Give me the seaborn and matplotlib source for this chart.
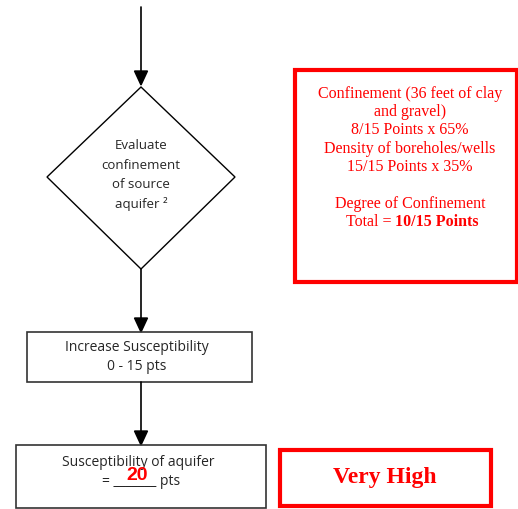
import matplotlib.pyplot as plt
import seaborn as sns
from matplotlib.patches import Rectangle, Polygon

sns.set_style("white")

# Flowchart texts
decision_lines = ["Evaluate", "confinement", "of source", "aquifer \u00b2"]
step_lines = ["Increase Susceptibility", "0 - 15 pts"]
result_lines = ["Susceptibility of aquifer", "= _______ pts"]
score_value = "20"
rating_label = "Very High"
note_lines = ["Confinement (36 feet of clay", "and gravel)", "8/15 Points x 65%",
              "Density of boreholes/wells", "15/15 Points x 35%", "",
              "Degree of Confinement"]
note_total = ("Total =", "10/15 Points")

red = "#ff0000"
hand = ["Open Sans", "DejaVu Sans"]
serif = ["Liberation Serif", "DejaVu Serif"]

fig = plt.figure(figsize=(5.18, 5.10), dpi=100)
ax = fig.add_axes([0, 0, 1, 1])
ax.set_xlim(0, 518)
ax.set_ylim(510, 0)
ax.axis("off")


def arrow_down(x, y0, y1):
    ax.plot([x, x], [y0, y1 - 12], color="black", lw=1.2)
    ax.add_patch(Polygon([[x - 6.5, y1 - 14], [x + 6.5, y1 - 14], [x, y1]],
                         closed=True, color="black"))


# top arrow into the diamond
arrow_down(141, 8, 86)

# decision diamond
ax.add_patch(Polygon([[141, 88], [235, 178], [141, 270], [47, 178]],
                     closed=True, fill=False, ec="black", lw=1.0))
for i, t in enumerate(decision_lines):
    ax.text(141, 146 + i * 19.5, t, ha="center", va="center", fontsize=9.5, family=hand)

arrow_down(141, 270, 333)

# step box
ax.add_patch(Rectangle((27, 333), 225, 50, fill=False, ec="#333333", lw=1.2))
for i, t in enumerate(step_lines):
    ax.text(137, 348 + i * 19, t, ha="center", va="center", fontsize=10, family=hand)

arrow_down(141, 383, 446)

# result box
ax.add_patch(Rectangle((16, 446), 250, 63, fill=False, ec="#333333", lw=1.2))
ax.text(138, 463, result_lines[0], ha="center", va="center", fontsize=10, family=hand)
ax.text(141, 482, result_lines[1], ha="center", va="center", fontsize=10, family=hand)
ax.text(137, 476, score_value, ha="center", va="center", fontsize=14, color=red,
        fontweight="bold", family=["Liberation Sans", "DejaVu Sans"])

# rating box
ax.add_patch(Rectangle((280, 451), 211, 56, fill=False, ec=red, lw=3))
ax.text(385, 478, rating_label, ha="center", va="center", fontsize=17, color=red,
        fontweight="bold", family=serif)

# confinement note box
ax.add_patch(Rectangle((295, 71), 222, 212, fill=False, ec=red, lw=3))
for i, t in enumerate(note_lines):
    ax.text(410, 93.5 + i * 18.5, t, ha="center", va="center", fontsize=11.5,
            color=red, family=serif)
ax.text(391, 222.5, note_total[0], ha="right", va="center", fontsize=11.5,
        color=red, family=serif)
ax.text(395, 222.5, note_total[1], ha="left", va="center", fontsize=11.5,
        color=red, family=serif, fontweight="bold")

fig.savefig("out.png", dpi=100)
